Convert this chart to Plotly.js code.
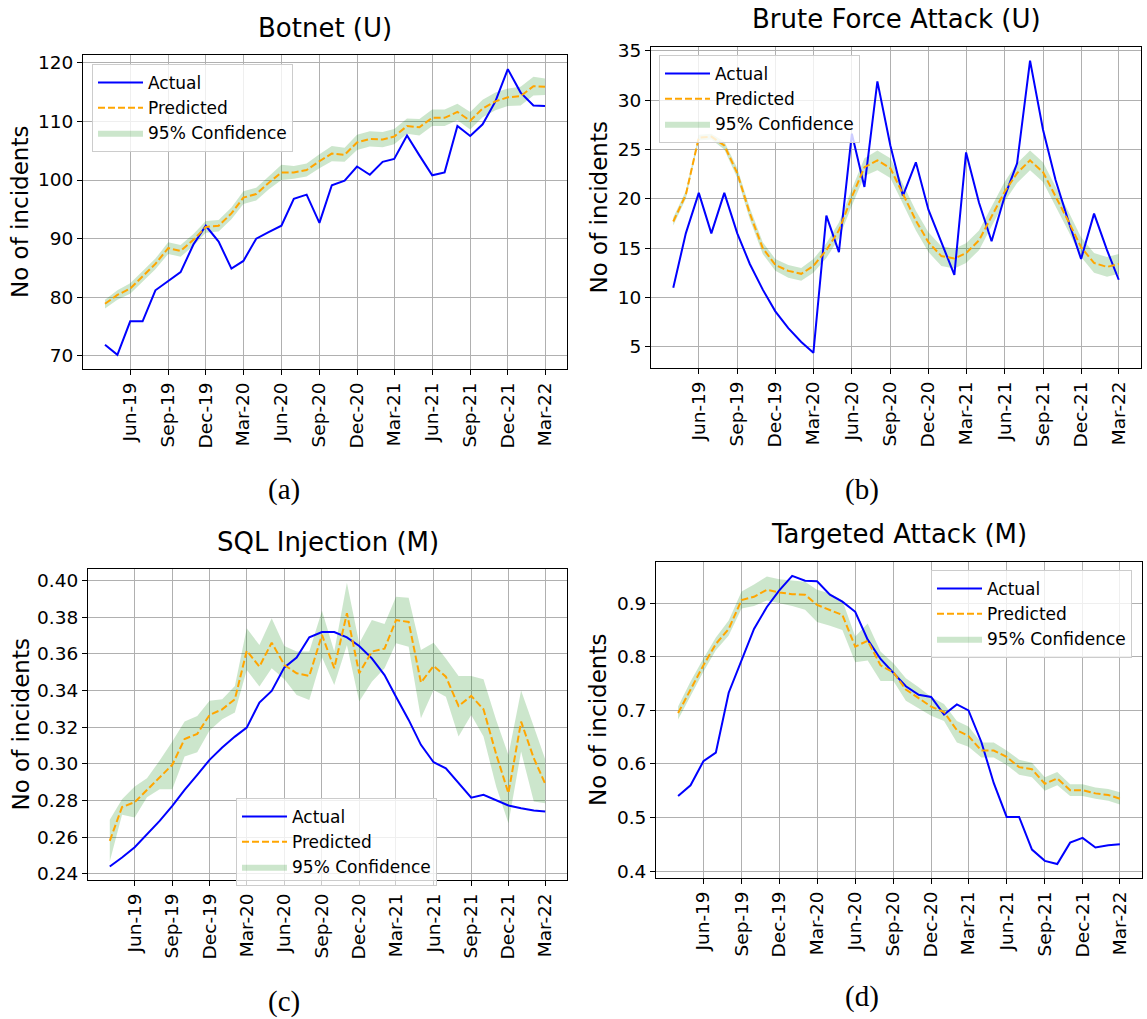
<!DOCTYPE html>
<html>
<head>
<meta charset="utf-8">
<script src="https://cdn.plot.ly/plotly-3.0.1.min.js"></script>
<style>html,body{margin:0;padding:0;background:#fff;}#chart{width:1147px;height:1019px;}</style>
</head>
<body>
<div id="chart"></div>
<script>
// ---------- data ----------
const months = ['2019-04-01','2019-05-01','2019-06-01','2019-07-01','2019-08-01','2019-09-01','2019-10-01','2019-11-01','2019-12-01',
  '2020-01-01','2020-02-01','2020-03-01','2020-04-01','2020-05-01','2020-06-01','2020-07-01','2020-08-01','2020-09-01','2020-10-01','2020-11-01','2020-12-01',
  '2021-01-01','2021-02-01','2021-03-01','2021-04-01','2021-05-01','2021-06-01','2021-07-01','2021-08-01','2021-09-01','2021-10-01','2021-11-01','2021-12-01',
  '2022-01-01','2022-02-01','2022-03-01'];
const tickDates = ['2019-06-01','2019-09-01','2019-12-01','2020-03-01','2020-06-01','2020-09-01','2020-12-01','2021-03-01','2021-06-01','2021-09-01','2021-12-01','2022-03-01'];
const tickLabels = ['Jun-19','Sep-19','Dec-19','Mar-20','Jun-20','Sep-20','Dec-20','Mar-21','Jun-21','Sep-21','Dec-21','Mar-22'];

const titles = ['Botnet (U)','Brute Force Attack (U)','SQL Injection (M)','Targeted Attack (M)'];
const captions = ['(a)','(b)','(c)','(d)'];

// (a) Botnet
const botnetActual = [71.9,70.2,75.9,75.9,81.2,82.8,84.3,89.0,92.2,89.5,84.9,86.2,90.0,91.1,92.2,96.8,97.5,92.7,99.1,99.9,102.3,100.9,103.1,103.6,107.6,104.2,100.8,101.3,109.2,107.5,109.5,113.4,118.9,114.9,112.7,112.6];
const botnetPred   = [78.9,80.4,81.5,83.5,85.7,88.4,87.9,89.8,92.0,92.2,94.3,97.0,97.6,99.5,101.3,101.3,101.7,103.2,104.5,104.3,106.4,107.0,106.9,107.4,109.2,109.0,110.6,110.6,111.6,110.1,112.2,113.4,114.1,114.3,116.0,115.9];
const botnetUpper  = [79.6,81.2,82.4,84.4,86.6,89.4,88.9,90.8,93.0,93.2,95.3,98.1,98.7,100.6,102.6,102.4,102.8,104.4,105.8,105.5,107.7,108.3,108.2,108.7,110.5,110.4,112.0,112.0,113.0,111.6,113.7,114.9,115.6,115.9,117.6,117.3];
const botnetLower  = [78.1,79.6,80.6,82.6,84.8,87.4,86.9,88.8,91.0,91.2,93.3,95.9,96.5,98.4,100.0,100.2,100.6,102.0,103.2,103.1,105.1,105.7,105.6,106.1,107.9,107.6,109.2,109.2,110.2,108.6,110.7,111.9,112.6,112.7,114.4,114.5];

// (b) Brute Force Attack
const bruteActual = [11.0,16.5,20.6,16.5,20.6,16.5,13.4,10.8,8.6,6.9,5.5,4.4,18.3,14.6,26.6,21.2,31.9,25.4,20.3,23.7,18.9,15.5,12.3,24.7,19.6,15.7,20.2,23.6,34.0,27.0,21.9,17.7,13.9,18.5,14.8,11.8];
const brutePred   = [17.7,20.4,26.2,26.3,25.4,22.6,18.5,15.0,13.3,12.7,12.4,13.2,14.8,16.8,20.2,23.2,23.9,23.1,20.5,17.8,15.6,14.2,13.95,14.5,15.8,18.2,20.7,22.6,23.9,22.7,20.3,17.7,15.1,13.5,13.1,13.4];
const bruteUpper  = [18.1,20.8,26.5,26.6,25.8,23.1,19.1,15.6,13.9,13.3,13.0,13.9,15.5,17.6,21.0,24.1,24.9,24.1,21.5,18.8,16.6,15.2,14.95,15.5,16.8,19.2,21.7,23.6,24.9,23.7,21.3,18.7,16.1,14.5,14.1,14.4];
const bruteLower  = [17.3,20.0,25.9,26.0,25.0,22.1,17.9,14.4,12.7,12.0,11.7,12.5,14.0,16.0,19.3,22.3,22.9,22.1,19.5,16.8,14.6,13.2,12.95,13.5,14.8,17.2,19.7,21.6,22.9,21.7,19.3,16.7,14.1,12.5,12.1,12.4];

// (c) SQL Injection
const sqlActual = [0.2440,0.2489,0.2545,0.2613,0.2689,0.2771,0.2858,0.2940,0.3022,0.3089,0.3149,0.3198,0.3335,0.3398,0.3527,0.3580,0.3691,0.3720,0.3720,0.3691,0.3644,0.3576,0.3485,0.3367,0.3240,0.3104,0.3009,0.2976,0.2895,0.2815,0.2831,0.2800,0.2773,0.2758,0.2745,0.2740];
const sqlPred   = [0.2580,0.2764,0.2791,0.2858,0.2931,0.2995,0.3136,0.3164,0.3267,0.3298,0.3353,0.3618,0.3531,0.3662,0.3540,0.3495,0.3480,0.3704,0.3522,0.3822,0.3495,0.3613,0.3629,0.3785,0.3775,0.3444,0.3535,0.3476,0.3316,0.3371,0.3298,0.3053,0.2840,0.3231,0.3031,0.2891];
const sqlUpper  = [0.2695,0.2807,0.2876,0.2922,0.3018,0.3122,0.3231,0.3262,0.3345,0.3353,0.3425,0.3740,0.3649,0.3795,0.3644,0.3613,0.3613,0.3836,0.3613,0.3989,0.3658,0.3785,0.3764,0.3913,0.3907,0.3622,0.3662,0.3576,0.3480,0.3480,0.3462,0.3240,0.3049,0.3400,0.3204,0.3025];
const sqlLower  = [0.2467,0.2722,0.2707,0.2818,0.2862,0.2862,0.3040,0.3064,0.3182,0.3244,0.3280,0.3513,0.3422,0.3522,0.3462,0.3376,0.3349,0.3582,0.3431,0.3649,0.3340,0.3449,0.3522,0.3658,0.3640,0.3249,0.3404,0.3367,0.3149,0.3267,0.3149,0.2876,0.2676,0.3067,0.2795,0.2785];

// (d) Targeted Attack
const targetActual = [0.540,0.560,0.605,0.621,0.733,0.793,0.852,0.893,0.924,0.951,0.942,0.941,0.916,0.903,0.884,0.832,0.796,0.770,0.745,0.729,0.725,0.692,0.711,0.700,0.641,0.564,0.501,0.501,0.440,0.419,0.413,0.453,0.462,0.444,0.448,0.450];
const targetPred   = [0.695,0.740,0.784,0.824,0.852,0.906,0.912,0.925,0.920,0.917,0.916,0.897,0.888,0.878,0.819,0.830,0.784,0.771,0.739,0.723,0.707,0.697,0.663,0.652,0.625,0.625,0.613,0.594,0.590,0.563,0.573,0.551,0.551,0.545,0.542,0.535];
const targetUpper  = [0.707,0.754,0.797,0.836,0.868,0.922,0.935,0.950,0.945,0.942,0.940,0.925,0.918,0.905,0.838,0.862,0.810,0.788,0.760,0.743,0.725,0.712,0.680,0.670,0.640,0.640,0.625,0.608,0.602,0.575,0.585,0.562,0.562,0.556,0.553,0.547];
const targetLower  = [0.683,0.728,0.772,0.812,0.840,0.890,0.895,0.905,0.900,0.895,0.888,0.865,0.858,0.850,0.790,0.793,0.755,0.755,0.718,0.703,0.690,0.680,0.640,0.632,0.612,0.612,0.598,0.580,0.575,0.550,0.560,0.540,0.540,0.535,0.531,0.524];

// ---------- layout helpers ----------
const W = 1147, H = 1019;
const px = v => v / W;
const py = v => 1 - v / H;

const panels = [
  {actual: botnetActual, pred: botnetPred, up: botnetUpper, lo: botnetLower,
   box: [83, 567, 55, 369], yr: [67.78, 121.31], dtick: 10, fmt: 'd',
   legend: [92, 64], titleY: 28, labelX: 20, capX: 284, capY: 489},
  {actual: bruteActual, pred: brutePred, up: bruteUpper, lo: bruteLower,
   box: [651, 1141, 47, 368], yr: [2.86, 35.38], dtick: 5, fmt: 'd',
   legend: [659, 55], titleY: 19, labelX: 598, capX: 862, capY: 489},
  {actual: sqlActual, pred: sqlPred, up: sqlUpper, lo: sqlLower,
   box: [88, 567, 569, 880], yr: [0.2366, 0.4064], dtick: 0.02, fmt: '.2f',
   legend: [236, 798], titleY: 542, labelX: 20, capX: 284, capY: 1001},
  {actual: targetActual, pred: targetPred, up: targetUpper, lo: targetLower,
   box: [656, 1142, 562, 878], yr: [0.387, 0.977], dtick: 0.1, fmt: '.1f',
   legend: [931, 570], titleY: 534, labelX: 598, capX: 862, capY: 996}
];

const FONT = 'DejaVu Sans, Verdana, sans-serif';
const data = [];
const layout = {
  width: W, height: H,
  margin: {l: 0, r: 0, t: 0, b: 0},
  paper_bgcolor: '#ffffff', plot_bgcolor: '#ffffff',
  font: {family: FONT, color: '#000000', size: 18},
  showlegend: true,
  annotations: []
};

panels.forEach((p, i) => {
  const n = i === 0 ? '' : String(i + 1);
  const xa = 'x' + n, ya = 'y' + n;
  const lg = 'legend' + n;
  data.push({x: months, y: p.lo, xaxis: xa, yaxis: ya, type: 'scatter', mode: 'lines',
    line: {width: 0, color: 'rgba(0,128,0,0)'}, showlegend: false, hoverinfo: 'skip', legend: lg});
  data.push({x: months, y: p.up, xaxis: xa, yaxis: ya, type: 'scatter', mode: 'lines',
    fill: 'tonexty', fillcolor: 'rgba(0,128,0,0.2)', line: {width: 0, color: 'rgba(0,128,0,0)'},
    name: '95% Confidence', legend: lg, legendrank: 3, legendgroup: 'c' + i});
  data.push({x: months, y: p.actual, xaxis: xa, yaxis: ya, type: 'scatter', mode: 'lines',
    line: {color: '#0000ff', width: 2}, name: 'Actual', legend: lg, legendrank: 1, legendgroup: 'a' + i});
  data.push({x: months, y: p.pred, xaxis: xa, yaxis: ya, type: 'scatter', mode: 'lines',
    line: {color: '#ffa500', width: 2, dash: '7px,3px'}, name: 'Predicted', legend: lg, legendrank: 2, legendgroup: 'p' + i});

  const [l, r, t, b] = p.box;
  layout['xaxis' + n] = {
    type: 'date', domain: [px(l), px(r)], anchor: ya,
    range: ['2019-02-06 18:00', '2022-04-23 06:00'],
    tickmode: 'array', tickvals: tickDates, ticktext: tickLabels, tickangle: -90,
    tickfont: {size: 18.5, family: FONT, color: '#000'},
    ticks: 'outside', ticklen: 5, tickwidth: 1, tickcolor: '#000',
    showline: true, linecolor: '#000', linewidth: 1, mirror: true,
    showgrid: true, gridcolor: '#b0b0b0', gridwidth: 1, zeroline: false
  };
  layout['yaxis' + n] = {
    domain: [py(b), py(t)], anchor: xa, range: p.yr,
    tickmode: 'linear', dtick: p.dtick, tickformat: p.fmt,
    tickfont: {size: 18.5, family: FONT, color: '#000'},
    ticks: 'outside', ticklen: 5, tickwidth: 1, tickcolor: '#000',
    showline: true, linecolor: '#000', linewidth: 1, mirror: true,
    showgrid: true, gridcolor: '#b0b0b0', gridwidth: 1, zeroline: false
  };
  layout[lg] = {
    x: px(p.legend[0]), y: py(p.legend[1]), xanchor: 'left', yanchor: 'top',
    xref: 'paper', yref: 'paper',
    bgcolor: 'rgba(255,255,255,0.8)', bordercolor: '#cccccc', borderwidth: 1,
    font: {size: 17, family: FONT, color: '#000'},
    traceorder: 'grouped', tracegroupgap: 0, itemwidth: 45
  };
  // title
  layout.annotations.push({text: titles[i], xref: 'paper', yref: 'paper',
    x: px((l + r) / 2), y: py(p.titleY), xanchor: 'center', yanchor: 'middle', showarrow: false,
    font: {size: 26, family: FONT, color: '#000'}});
  // y label
  layout.annotations.push({text: 'No of incidents', xref: 'paper', yref: 'paper',
    x: px(p.labelX), y: py((t + b) / 2), xanchor: 'center', yanchor: 'middle', showarrow: false,
    textangle: -90, font: {size: 23, family: FONT, color: '#000'}});
  // caption
  layout.annotations.push({text: captions[i], xref: 'paper', yref: 'paper',
    x: px(p.capX), y: py(p.capY), xanchor: 'center', yanchor: 'middle', showarrow: false,
    font: {size: 29, family: 'Liberation Serif, DejaVu Serif, serif', color: '#000'}});
});

Plotly.newPlot('chart', data, layout, {staticPlot: true, displayModeBar: false});
</script>
</body>
</html>
